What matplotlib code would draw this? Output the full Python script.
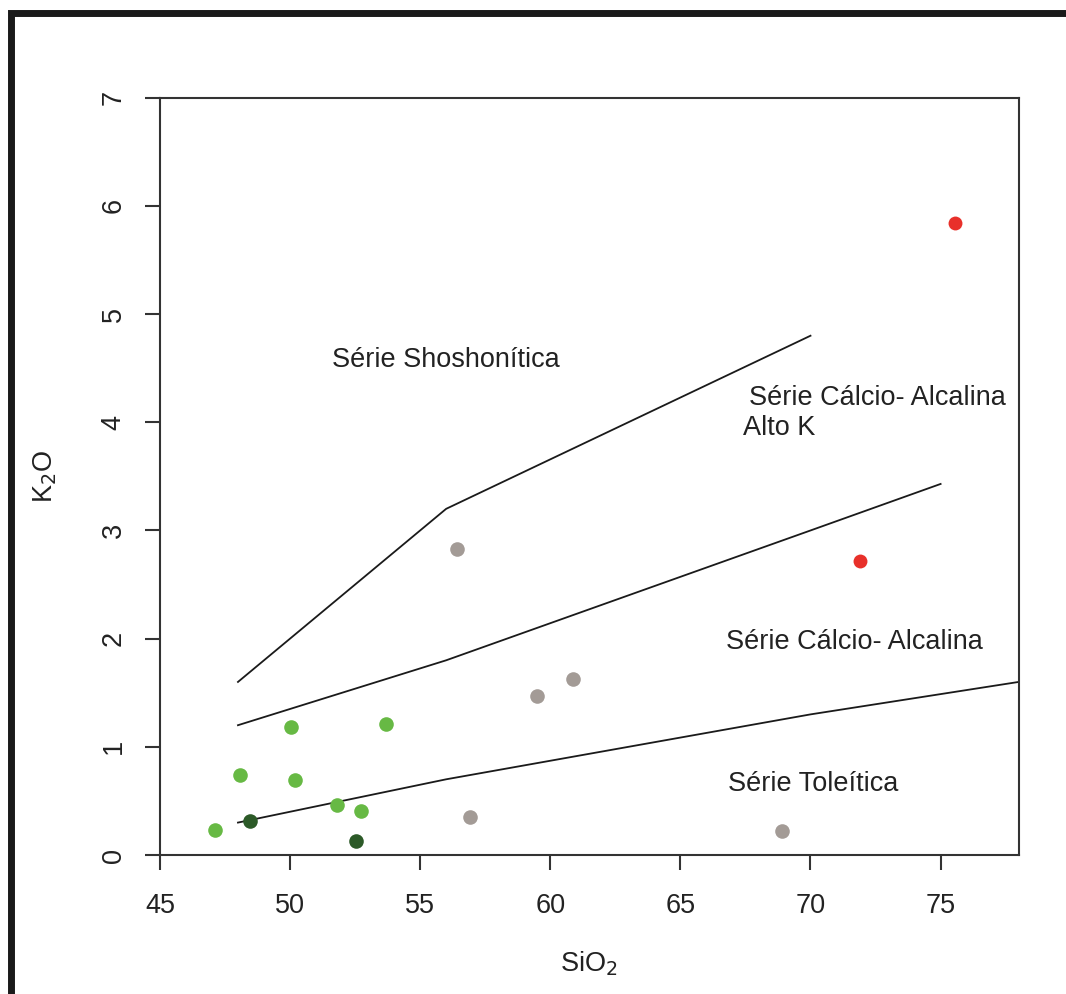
import matplotlib
matplotlib.use("Agg")
import matplotlib.pyplot as plt
from matplotlib.patches import Rectangle

plt.rcParams['font.family'] = ['Liberation Sans', 'DejaVu Sans']

# boundary lines (Peccerillo & Taylor style)
shosh_x = [48, 56, 70]
shosh_y = [1.6, 3.2, 4.8]
highk_x = [48, 56, 70, 75]
highk_y = [1.2, 1.8, 3.0, 3.43]
thol_x = [48, 56, 70, 78]
thol_y = [0.3, 0.7, 1.3, 1.6]

# samples
light_green_x = [47.11, 48.06, 50.05, 50.18, 51.80, 52.71, 53.70]
light_green_y = [0.23, 0.74, 1.18, 0.69, 0.46, 0.41, 1.21]
dark_green_x = [48.48, 52.52]
dark_green_y = [0.31, 0.13]
gray_x = [56.40, 59.51, 60.88, 56.91, 68.89]
gray_y = [2.83, 1.47, 1.63, 0.35, 0.22]
red_x = [75.55, 71.90]
red_y = [5.84, 2.72]

fig = plt.figure(figsize=(10.66, 9.94), dpi=100)
ax = fig.add_axes([0.150, 0.1398, 0.8056, 0.7619])

# boundary lines
for xs, ys in [(shosh_x, shosh_y), (highk_x, highk_y), (thol_x, thol_y)]:
    ax.plot(xs, ys, color="#1a1a1a", lw=1.3)

# points
ax.plot(light_green_x, light_green_y, 'o', color="#67b944", ms=10.5, mew=0)
ax.plot(dark_green_x, dark_green_y, 'o', color="#2c5a28", ms=10.5, mew=0)
ax.plot(gray_x, gray_y, 'o', color="#a39b96", ms=10.5, mew=0)
ax.plot(red_x, red_y, 'o', color="#e8302a", ms=10, mew=0)

# region labels
fs = 19.5
ax.text(56.0, 4.575, "Série Shoshonítica", fontsize=fs, ha='center', va='center', color="#222222")
ax.text(72.59, 4.22, "Série Cálcio- Alcalina", fontsize=fs, ha='center', va='center', color="#222222")
ax.text(67.41, 3.95, "Alto K", fontsize=fs, ha='left', va='center', color="#222222")
ax.text(71.67, 1.97, "Série Cálcio- Alcalina", fontsize=fs, ha='center', va='center', color="#222222")
ax.text(70.12, 0.656, "Série Toleítica", fontsize=fs, ha='center', va='center', color="#222222")

# axes, R-like look
ax.set_xlim(45, 78)
ax.set_ylim(0, 7)
ax.set_xticks([45, 50, 55, 60, 65, 70, 75])
ax.set_yticks(range(8))
for sp in ax.spines.values():
    sp.set_linewidth(1.5)
    sp.set_color("#333333")
ax.tick_params(axis='both', direction='out', length=11, width=1.5, color="#333333",
               labelsize=fs, labelcolor="#222222")
ax.tick_params(axis='x', pad=16)
ax.tick_params(axis='y', pad=13, labelrotation=90)
for lab in ax.get_yticklabels():
    lab.set_va('center')

ax.set_xlabel("SiO$_2$", fontsize=fs, color="#222222", labelpad=22)
ax.set_ylabel("K$_2$O", fontsize=fs, color="#222222", labelpad=30)

# thick frame around the figure (cropped at right and bottom)
frame = Rectangle((0.0103, -0.05), 1.2, 1.0372, transform=fig.transFigure,
                  fill=False, lw=5, edgecolor="#1a1a1a", clip_on=False)
fig.add_artist(frame)

fig.savefig("out.png", dpi=100)
